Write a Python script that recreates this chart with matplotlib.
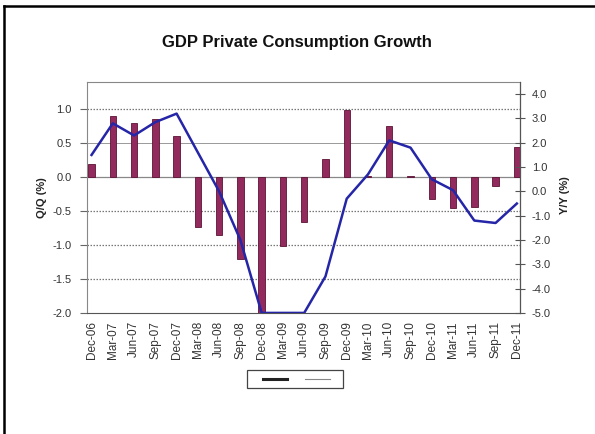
import numpy as np
import matplotlib.pyplot as plt
from matplotlib.lines import Line2D
from matplotlib.patches import Rectangle

plt.rcParams['font.family'] = ['Liberation Sans', 'DejaVu Sans']

# quarterly data
quarters = ['Dec-06', 'Mar-07', 'Jun-07', 'Sep-07', 'Dec-07', 'Mar-08', 'Jun-08',
            'Sep-08', 'Dec-08', 'Mar-09', 'Jun-09', 'Sep-09', 'Dec-09', 'Mar-10',
            'Jun-10', 'Sep-10', 'Dec-10', 'Mar-11', 'Jun-11', 'Sep-11', 'Dec-11']
qq = [0.19, 0.90, 0.80, 0.85, 0.60, -0.73, -0.86, -1.21, -2.0, -1.01, -0.66,
      0.27, 0.99, 0.02, 0.75, 0.01, -0.32, -0.45, -0.44, -0.13, 0.45]
yy = [1.5, 2.8, 2.3, 2.85, 3.2, 1.6, 0.0, -2.0, -5.0, -5.0, -5.0,
      -3.5, -0.3, 0.7, 2.1, 1.8, 0.5, 0.05, -1.2, -1.3, -0.5]

left_ticks = [1.0, 0.5, 0.0, -0.5, -1.0, -1.5, -2.0]
right_ticks = [4.0, 3.0, 2.0, 1.0, 0.0, -1.0, -2.0, -3.0, -4.0, -5.0]

fig = plt.figure(figsize=(5.95, 4.34), dpi=100)
ax = fig.add_axes([0.146, 0.279, 0.728, 0.532])
ax2 = ax.twinx()

x = np.arange(len(quarters))

# Q/Q bars on left axis
ax.bar(x, qq, width=0.3, color='#932A5E', edgecolor='#5C1234', linewidth=0.6, zorder=3)
ax.set_ylim(-2.0, 1.4)
ax.set_xlim(-0.22, 20.15)
ax.set_yticks(left_ticks)
ax.set_yticklabels(['%.1f' % v for v in left_ticks], fontsize=8, color='#333333')

# gridlines
for v in [1.0, -0.5, -1.0, -1.5]:
    ax.axhline(v, color='#777777', lw=0.9, ls=(0, (1.2, 1.2)), zorder=1)
ax.axhline(0.5, color='#999999', lw=0.7, zorder=1)
ax.axhline(0.0, color='#888888', lw=0.9, zorder=1)

ax.set_xticks(x)
ax.set_xticklabels(quarters, rotation=90, fontsize=8.5, color='#333333')
ax.tick_params(axis='x', length=0, pad=6)
ax.tick_params(axis='y', length=5, direction='out', pad=6, color='#666666')

for s in ['top', 'bottom', 'left']:
    ax.spines[s].set_color('#888888')
    ax.spines[s].set_linewidth(0.8)
ax.spines['bottom'].set_color('#555555')

# Y/Y line on right axis
ax2.plot(x, yy, color='#2525A8', lw=1.8, zorder=4)
ax2.set_ylim(-5.0, 4.5)
ax2.set_yticks(right_ticks)
ax2.set_yticklabels(['%.1f' % v for v in right_ticks], fontsize=8, color='#333333')
ax2.tick_params(axis='y', length=7, direction='inout', pad=5, color='#555555')
ax2.spines['right'].set_color('#555555')
ax2.spines['right'].set_linewidth(0.8)
for s in ['top', 'bottom', 'left']:
    ax2.spines[s].set_visible(False)

fig.text(0.071, 0.544, 'Q/Q (%)', rotation=90, fontsize=8, fontweight='bold',
         ha='center', va='center', color='#222222')
fig.text(0.950, 0.551, 'Y/Y (%)', rotation=90, fontsize=8, fontweight='bold',
         ha='center', va='center', color='#222222')

fig.text(0.499, 0.903, 'GDP Private Consumption Growth', fontsize=12,
         fontweight='bold', ha='center', va='center', color='#111111')

# legend box without labels, as in the original
fig.add_artist(Rectangle((0.415, 0.106), 0.161, 0.0415, transform=fig.transFigure,
                         facecolor='white', edgecolor='#444444', lw=0.9))
fig.add_artist(Line2D([0.442, 0.482], [0.127, 0.127], color='#222222', lw=2.2,
                      transform=fig.transFigure))
fig.add_artist(Line2D([0.513, 0.555], [0.127, 0.127], color='#888888', lw=0.8,
                      transform=fig.transFigure))

# outer frame (left and top edges)
fig.add_artist(Line2D([0.006, 0.006], [0.0, 0.986], color='black', lw=1.8,
                      transform=fig.transFigure))
fig.add_artist(Line2D([0.006, 1.0], [0.986, 0.986], color='black', lw=1.8,
                      transform=fig.transFigure))

fig.savefig('out.png', dpi=100)
